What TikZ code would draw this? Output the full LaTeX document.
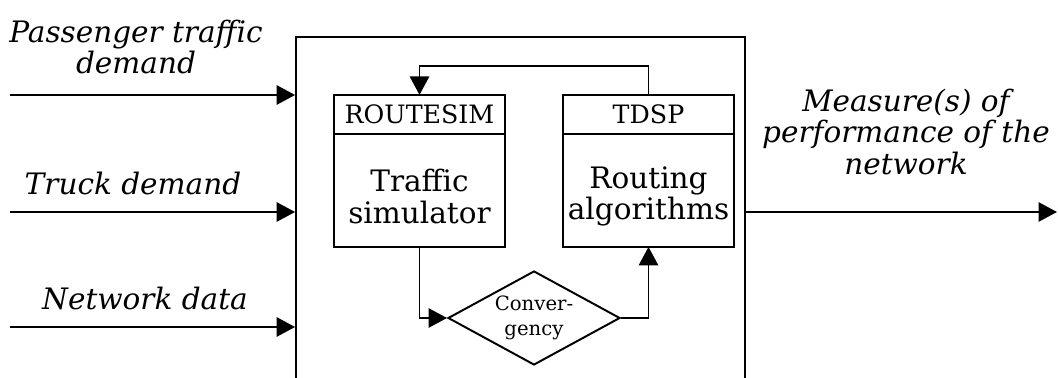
\documentclass[tikz,border=0pt]{standalone}
\usepackage{fontspec}
\setmainfont{DejaVu Serif}
\usetikzlibrary{positioning,arrows.meta,shapes.geometric}
\tikzset{
  mainbox/.style={rectangle, draw, line width=0.7pt, minimum width=56.1mm, minimum height=48mm},
  headbox/.style={rectangle, draw, line width=0.7pt, outer sep=0pt, minimum width=21.4mm, minimum height=4.9mm, inner sep=0pt, font=\fontsize{9}{10}\selectfont},
  bodybox/.style={rectangle, draw, line width=0.7pt, outer sep=0pt, minimum width=21.4mm, minimum height=14.1mm, inner sep=0pt, align=center, font=\fontsize{10.5}{11.3}\selectfont},
  testdiamond/.style={diamond, draw, line width=0.7pt, aspect=1.83, minimum width=21.5mm, minimum height=11.75mm, inner sep=-2pt, align=center, font=\fontsize{7}{9}\selectfont},
  inlabel/.style={font=\fontsize{10.5}{11.3}\selectfont\itshape, align=center},
  flow/.style={-{Triangle[length=2.3mm,width=2.4mm]}, line width=0.7pt},
}
% taller first line, sets the body text a little lower
\newcommand{\lowstrut}{\rule{0pt}{12pt}}

\begin{document}
\begin{tikzpicture}[x=0.125mm, y=-0.125mm]
  \useasboundingbox (0,0) rectangle (1058,378);
  \clip (0,0) rectangle (1058,378);

  \node[mainbox] (system) at (520.5,229) {};

  \node[headbox] (simhead) at (419.5,114.5) {ROUTESIM};
  \node[bodybox] (sim) [below=0pt of simhead] {\lowstrut Traffic\\simulator};
  \node[headbox] (tdsphead) at (648.5,114.5) {TDSP};
  \node[bodybox] (tdsp) [below=0pt of tdsphead] {\lowstrut Routing\\algorithms};
  \node[testdiamond] (conv) at (534,318) {Conver-\\gency};

  \draw[flow] (tdsphead.north) -- ++(0,-29) -| (simhead.north);
  \draw[flow] (sim.south) |- (conv.west);
  \draw[flow] (conv.east) -| (tdsp.south);

  % inputs
  \coordinate (in1) at (10,95);
  \coordinate (in2) at (10,212);
  \coordinate (in3) at (10,327);
  \node[inlabel] (paxlbl) at (136,47) {Passenger traffic\\demand};
  \node[inlabel] (trucklbl) at (133,183) {Truck demand};
  \node[inlabel] (netlbl) at (145,298) {Network data};
  \draw[flow] (in1) -- (in1 -| system.west);
  \draw[flow] (in2) -- (in2 -| system.west);
  \draw[flow] (in3) -- (in3 -| system.west);

  % output
  \coordinate (out) at (1057,212);
  \node[inlabel] (mop) at (906,132) {Measure(s) of\\performance of the\\network};
  \draw[flow] (out -| system.east) -- (out);
\end{tikzpicture}
\end{document}
